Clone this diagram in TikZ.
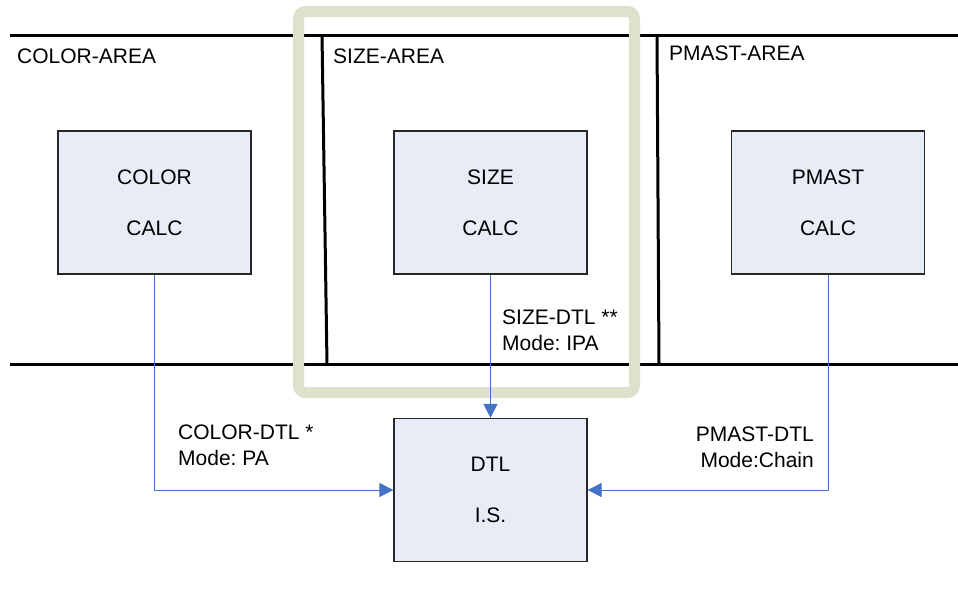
\documentclass[tikz,border=0pt]{standalone}
\usepackage{fontspec}
\setmainfont{Liberation Sans}
\frenchspacing
\usetikzlibrary{arrows.meta}
\definecolor{boxfill}{RGB}{231,236,246}
\definecolor{boxedge}{RGB}{40,40,40}
\definecolor{flow}{RGB}{68,114,196}
\definecolor{frameband}{RGB}{221,226,205}
\tikzset{
  x=1pt, y=-1pt,
  calcbox/.style={draw=boxedge, line width=1.3pt, fill=boxfill,
    minimum width=193pt, minimum height=143pt, inner sep=0pt,
    align=center, font=\fontsize{21}{51}\selectfont},
  arealine/.style={line width=3pt, black},
  arealabel/.style={anchor=base west, inner sep=0pt, font=\fontsize{21}{26}\selectfont},
  flowlabel/.style={inner sep=0pt, font=\fontsize{21}{26}\selectfont},
  flowline/.style={draw=flow, line width=1pt, -{Triangle[length=14pt, width=14pt]}},
  highlight/.style={draw=frameband, line width=11pt, rounded corners=7pt}
}
\begin{document}
\begin{tikzpicture}
\useasboundingbox (0,0) rectangle (958,606);
\fill[white] (0,0) rectangle (958,606);

% area boundaries
\draw[arealine] (10,35) -- (958,35);
\draw[arealine] (10,364) -- (958,364);
\draw[arealine] (322,35) -- (327,364);
\draw[arealine] (657,35) -- (659,364);

% area titles
\node[arealabel] (colorarea) at (17,63) {COLOR-AREA};
\node[arealabel] (sizearea)  at (333,63) {SIZE-AREA};
\node[arealabel] (pmastarea) at (669,60) {PMAST-AREA};

% highlighted size area
\draw[highlight] (298.5,11.5) rectangle (634.5,392.5);

% calculation blocks
\node[calcbox] (color) at (154.5,202.5) {COLOR\\CALC};
\node[calcbox] (size)  at (490.5,202.5) {SIZE\\CALC};
\node[calcbox] (pmast) at (828,202.5) {PMAST\\CALC};
\node[calcbox] (dtl)   at (490.5,490) {DTL\\I.S.};

% data transfers
\draw[flowline] (color.south) |- (dtl.west);
\draw[flowline] (size.south) -- (dtl.north);
\draw[flowline] (pmast.south) |- (dtl.east);

% transfer labels
\node[flowlabel, anchor=north west, align=left] (colordtl) at (178,425) {COLOR-DTL *\\Mode: PA};
\node[flowlabel, anchor=north west, align=left] (sizedtl) at (502,310) {SIZE-DTL **\\Mode: IPA};
\node[flowlabel, anchor=north east, align=right] (pmastdtl) at (814,427) {PMAST-DTL\\Mode:Chain};
\end{tikzpicture}
\end{document}
